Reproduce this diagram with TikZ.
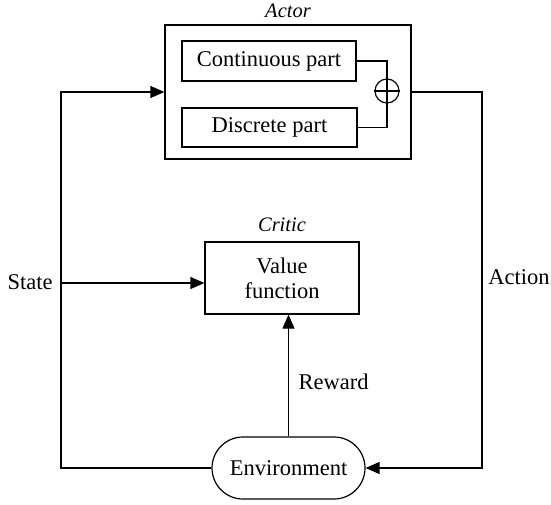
\documentclass[tikz,border=0pt]{standalone}
\usepackage{fontspec}
\setmainfont{Liberation Serif}
\usetikzlibrary{arrows.meta,shapes.misc}
\begin{document}
\begin{tikzpicture}[x=1pt,y=-1pt,
  line width=1.2pt,
  box/.style={draw,rectangle,inner sep=0pt,align=center,font=\fontsize{22.5}{26}\selectfont},
  lbl/.style={inner sep=0pt,font=\fontsize{22.5}{26}\selectfont},
  ttl/.style={inner sep=0pt,font=\fontsize{20.5}{24}\selectfont\itshape},
  arr/.style={-{Triangle[length=14pt,width=12pt]}}]
\useasboundingbox (0,0) rectangle (551,504);
\node[box,minimum width=246pt,minimum height=134pt] (actor) at (288,92) {};
\node[box,minimum width=174pt,minimum height=40pt] (cont) at (269,61) {Continuous part};
\node[box,minimum width=175pt,minimum height=39pt] (disc) at (269.5,127.5) {Discrete part};
\node[draw,circle,minimum size=24pt,inner sep=0pt] (plus) at (387,91) {};
\draw (plus.north) -- (plus.south) (plus.west) -- (plus.east);
\node[ttl] (actlbl) at (288,11) {Actor};
\node[box,minimum width=154pt,minimum height=72pt] (critic) at (282,278) {Value\\[-1pt]function};
\node[ttl] (critlbl) at (282,225) {Critic};
\node[box,rounded rectangle,minimum width=153pt,minimum height=62pt] (env) at (288.5,468) {Environment};
\coordinate (R) at (482,92);
\coordinate (L) at (61,468);
\coordinate (S) at (61,283);
\draw (cont.east) -| (plus.north);
\draw (disc.east) -| (plus.south);
\draw[arr] (actor.east) -- (R) |- (env.east);
\draw[arr] (env.west) -- (L) |- (actor.west);
\draw[arr] (S) -- (S -| critic.west);
\draw[arr] (env.north) -- (env.north |- critic.south);
\node[lbl] (state) at (30,282) {State};
\node[lbl] (action) at (519,277) {Action};
\node[lbl,anchor=west] (reward) at (298,382) {Reward};
\end{tikzpicture}
\end{document}
